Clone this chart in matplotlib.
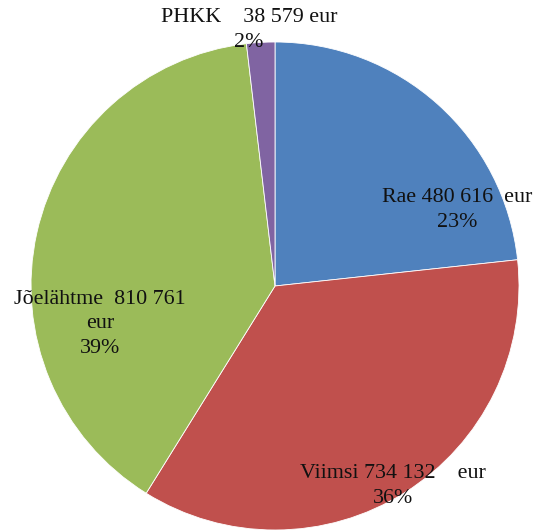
import matplotlib
matplotlib.use("Agg")
import matplotlib.pyplot as plt

# Budget split (eur) per recipient, clockwise from 12 o'clock
NAMES = ["Rae", "Viimsi", "Jõelähtme", "PHKK"]
AMOUNTS = [480616, 734132, 810761, 38579]
LABELS = ["Rae 480 616  eur\n23%",
          "Viimsi 734 132    eur\n36%",
          "Jõelähtme  810 761\neur\n39%",
          "PHKK    38 579 eur\n2%"]
COLORS = ["#4F81BD", "#C0504D", "#9BBB59", "#8064A2"]

W, H = 538, 531
fig = plt.figure(figsize=(W / 100, H / 100), dpi=100)
ax = fig.add_axes([0, 0, 1, 1])

cx, cy, r = 275, H - 286, 244
ax.pie(AMOUNTS, colors=COLORS, startangle=90, counterclock=False,
       center=(cx, cy), radius=r, frame=True,
       wedgeprops=dict(edgecolor="white", linewidth=0.6))
ax.set_xlim(0, W)
ax.set_ylim(0, H)
ax.set_aspect("equal")
ax.axis("off")

# label anchor points in pixel space (x, y from top)
label_pos = [(457, 210), (393, 486), (100, 324), (249, 30)]
for text, (x, y) in zip(LABELS, label_pos):
    ax.text(x, H - y, text, ha="center", va="center", fontsize=15.8,
            family="Liberation Serif", color="#111111", linespacing=1.38)

fig.savefig("out.png", dpi=100)
